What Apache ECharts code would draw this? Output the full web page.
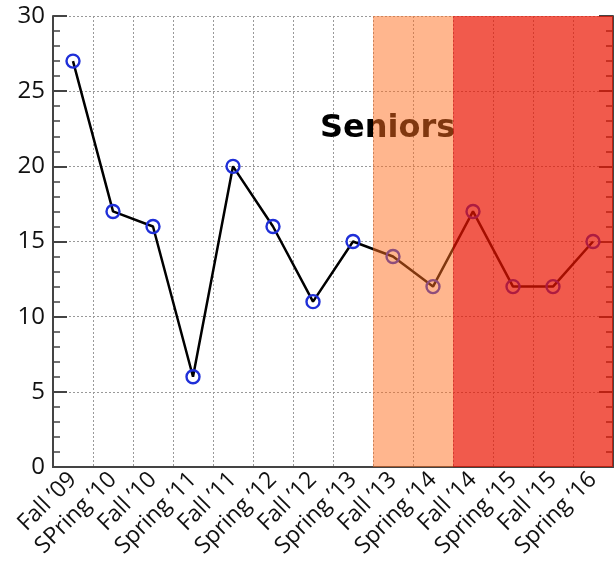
<!DOCTYPE html>
<html><head><meta charset="utf-8">
<script src="https://cdn.jsdelivr.net/npm/echarts@6/dist/echarts.min.js"></script>
<style>html,body{margin:0;padding:0;background:#fff}#c{width:614px;height:565px}</style>
</head><body><div id="c"></div>
<script>
const categories = ["Fall ’09","SPring ’10","Fall ’10","Spring ’11","Fall ’11","Spring ’12","Fall ’12","Spring ’13","Fall ’13","Spring ’14","Fall ’14","Spring ’15","Fall ’15","Spring ’16"];
const values = [27,17,16,6,20,16,11,15,14,12,17,12,12,15];
const yTicks = [0,5,10,15,20,25,30];
const orangeSpan = ["Fall ’13","Spring ’14"];
const redSpan = ["Fall ’14","Spring ’16"];
const annotation = "Seniors";

const spanOf = s => [categories.indexOf(s[0]), categories.indexOf(s[1]) + 1];
const o = spanOf(orangeSpan), r = spanOf(redSpan);

const chart = echarts.init(document.getElementById('c'), null, {renderer:'canvas'});
const axisCol = '#444';
const fontFam = '"Open Sans", "DejaVu Sans", sans-serif';
chart.setOption({
  animation:false,
  grid:{left:53,right:1,top:16,bottom:98},
  title:{text:annotation,left:315,top:108,z:1,textStyle:{fontFamily:'"DejaVu Sans", sans-serif',fontWeight:'bold',fontSize:32,color:'#000'}},
  xAxis:[{
    type:'category',data:categories,boundaryGap:true,
    axisLine:{lineStyle:{color:axisCol,width:2}},
    axisTick:{inside:true,length:9,lineStyle:{color:axisCol,width:2}},
    splitLine:{show:true,lineStyle:{color:'#999',type:[2,2],width:1}},
    axisLabel:{rotate:45,fontSize:23,color:'#111',fontFamily:fontFam,margin:9,interval:0}
  },{
    type:'category',data:categories,position:'top',boundaryGap:true,
    axisLine:{show:true,lineStyle:{color:axisCol,width:2}},
    axisTick:{inside:true,length:9,lineStyle:{color:axisCol,width:2}},
    axisLabel:{show:false},splitLine:{show:false}
  },{
    type:'value',min:0,max:categories.length,show:false
  }],
  yAxis:[{
    type:'value',min:0,max:30,interval:5,
    axisLine:{show:true,lineStyle:{color:axisCol,width:2}},
    axisTick:{inside:true,length:14,lineStyle:{color:axisCol,width:2}},
    minorTick:{show:true,splitNumber:5,length:7,lineStyle:{color:axisCol,width:1.5}},
    splitLine:{show:true,lineStyle:{color:'#999',type:[2,2],width:1}},
    axisLabel:{fontSize:24,color:'#111',fontFamily:fontFam,margin:8,
      formatter:v=>yTicks.includes(v)?String(v):''}
  },{
    type:'value',min:0,max:30,interval:5,position:'right',
    axisLine:{show:true,lineStyle:{color:axisCol,width:2}},
    axisTick:{inside:true,length:14,lineStyle:{color:axisCol,width:2}},
    minorTick:{show:true,splitNumber:5,length:7,lineStyle:{color:axisCol,width:1.5}},
    axisLabel:{show:false},splitLine:{show:false}
  }],
  series:[{
    type:'line',data:values,z:3,
    symbol:'circle',symbolSize:13,showSymbol:true,
    lineStyle:{color:'#000',width:2.5},
    itemStyle:{color:'rgba(0,0,0,0)',borderColor:'#1f2fd8',borderWidth:2.4}
  },{
    type:'line',data:[],xAxisIndex:2,yAxisIndex:0,z:10,silent:true,
    markArea:{silent:true,z:10,data:[
      [{xAxis:o[0],itemStyle:{color:'rgba(255,110,30,0.5)'}},{xAxis:o[1]}],
      [{xAxis:r[0],itemStyle:{color:'rgba(235,20,0,0.7)'}},{xAxis:r[1]}]
    ]}
  }]
});
</script></body></html>
